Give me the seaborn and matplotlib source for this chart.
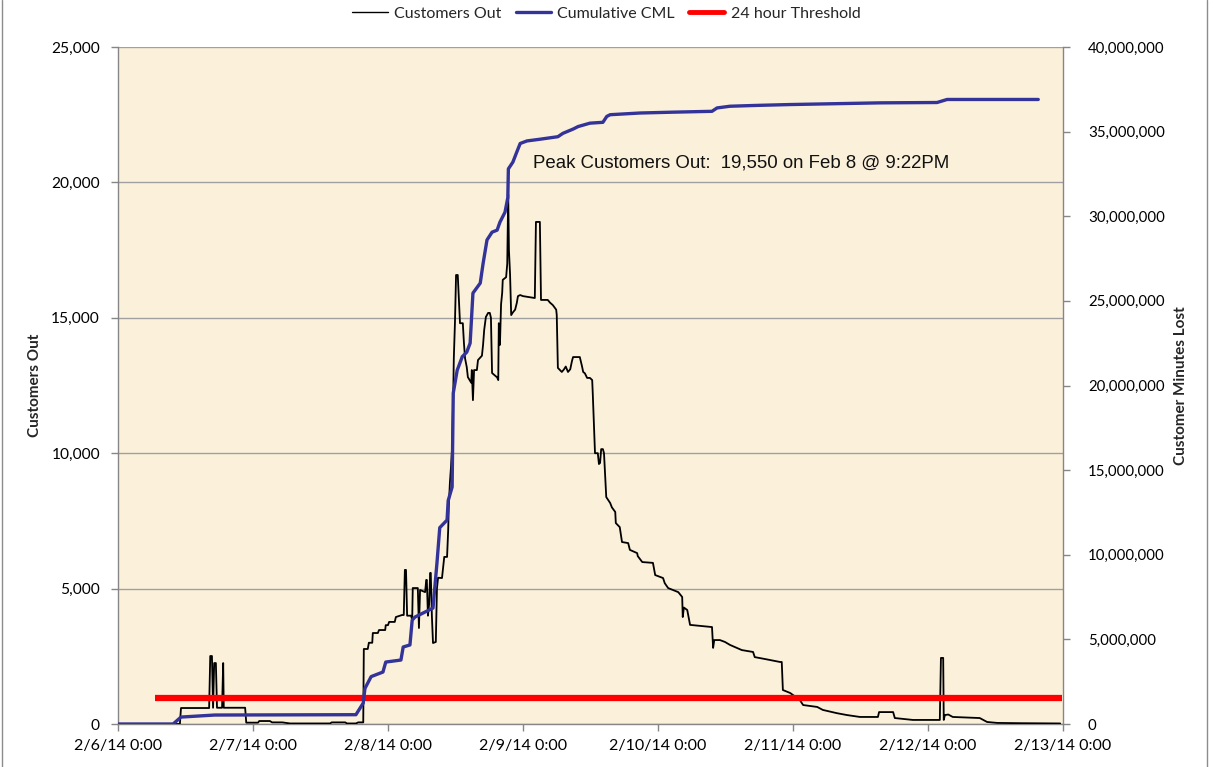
import numpy as np
import pandas as pd
import matplotlib
matplotlib.use("Agg")
import matplotlib.pyplot as plt
import seaborn as sns
from matplotlib.ticker import FuncFormatter, MultipleLocator
from matplotlib.lines import Line2D
import matplotlib.dates as mdates

# ---------------- data ----------------
start = pd.Timestamp("2014-02-06 00:00")

# Customers Out (hours since 2/6/14 0:00, customers)
co_hours = [0, 11.0, 11.2, 16.2, 16.4, 16.7, 16.9, 17.1, 17.4, 17.6, 18.5, 18.7, 18.8, 22.6,
            22.8, 24.9, 25.1, 27.0, 27.4, 29.2, 30.6, 37.7, 38.0, 40.4, 40.7, 42.3, 42.7, 43.6,
            43.7, 44.4, 44.6, 45.2, 45.3, 46.2, 46.4, 47.5, 47.6, 48.0, 48.2, 49.2, 49.4, 50.5,
            50.8, 51.0, 51.2, 51.4, 52.1, 52.3, 52.4, 53.3, 53.5, 53.7, 54.6, 54.8, 54.9, 55.1,
            55.3, 55.5, 55.6, 55.8, 56.0, 56.5, 56.7, 56.9, 57.4, 57.6, 58.0, 58.5, 58.7, 58.8,
            59.0, 59.2, 59.4, 59.6, 59.7, 59.9, 60.1, 60.4, 60.8, 61.3, 61.5, 61.7, 62.0, 62.2,
            62.8, 62.9, 63.1, 63.3, 63.8, 64.0, 64.7, 64.9, 65.1, 65.4, 65.8, 66.1, 66.3, 66.5,
            67.4, 67.6, 67.7, 67.9, 68.1, 68.3, 68.4, 69.0, 69.2, 69.37, 69.5, 69.7, 69.9, 70.2,
            70.6, 70.9, 71.1, 71.5, 72.0, 74.1, 74.3, 75.0, 75.2, 76.4, 76.8, 77.3, 77.9, 78.0,
            78.2, 78.9, 79.3, 79.6, 80.0, 80.4, 80.7, 80.9, 82.1, 82.5, 82.7, 83.0, 83.4, 83.9,
            84.3, 84.4, 84.8, 85.3, 85.5, 85.7, 85.9, 86.2, 86.4, 86.8, 87.5, 87.8, 88.4, 88.5,
            89.2, 89.6, 90.7, 91.0, 92.3, 92.4, 93.2, 95.1, 95.5, 96.9, 97.2, 97.8, 99.6, 100.3,
            100.4, 100.6, 101.2, 101.7, 105.6, 105.8, 106.0, 107.0, 107.9, 108.8, 110.9, 112.9,
            113.2, 115.0, 117.7, 118.0, 118.2, 119.5, 121.2, 121.8, 124.3, 125.3, 127.8, 129.6,
            131.9, 135.1, 135.3, 136.9, 137.8, 138.1, 141.3, 146.1, 146.3, 146.7, 146.8, 147.0,
            147.6, 148.4, 153.2, 154.5, 156.3, 160.4, 167.5]
co_values = [0, 0, 590, 590, 2510, 2510, 600, 2250, 2250, 600, 600, 2250, 600, 600,
             50, 50, 110, 110, 60, 60, 20, 20, 60, 60, 20, 20, 60, 60,
             2770, 2770, 3000, 3000, 3360, 3360, 3470, 3470, 3650, 3650, 3770, 3770, 3950, 4025,
             4025, 5690, 5690, 4000, 4000, 3840, 5020, 5020, 3545, 4950, 4870, 5320, 5320, 4000,
             4400, 5580, 5580, 4000, 2990, 3030, 5000, 5400, 5390, 5390, 6170, 6170, 7160, 8000,
             8900, 9500, 10230, 12220, 13500, 14800, 16580, 16580, 14800, 14800, 14070, 13500, 13180, 12810,
             12600, 13070, 11960, 13070, 13070, 13440, 13600, 14000, 14550, 15030, 15180, 15180, 15000, 12960,
             12800, 12700, 14800, 14000, 15500, 15920, 16400, 16500, 17000, 19550, 17500, 16600, 15100, 15200,
             15300, 15550, 15800, 15840, 15800, 15730, 18540, 18540, 15660, 15660, 15560, 15470, 15300, 15100,
             13150, 13000, 13100, 13200, 13000, 13100, 13400, 13550, 13550, 13200, 13000, 12950, 12780, 12780,
             12700, 12220, 10000, 10000, 9600, 9640, 10150, 10150, 10000, 8380, 8160, 8000, 7830, 7420,
             7270, 6720, 6680, 6430, 6310, 6200, 5980, 5950, 5500, 5390, 5200, 5020, 4870, 4690,
             3950, 4300, 4210, 3660, 3580, 2810, 3100, 3100, 3030, 2920, 2730, 2660,
             2470, 2400, 2290, 2290, 1255, 1145, 890, 700, 630, 520, 400, 330,
             260, 260, 440, 440, 440, 220, 150, 150, 2440, 2440, 150, 330,
             350, 260, 220, 75, 40, 30, 20]

# Cumulative customer minutes lost (hours, minutes)
cml_hours = [0, 9.8, 11.2, 17.2, 42.3, 43.6, 43.9, 45.0, 47.1, 47.6, 50.3, 50.7, 51.9, 52.3,
             52.8, 56.0, 56.7, 57.2, 58.5, 58.7, 59.4, 59.6, 60.3, 61.2, 62.0, 62.6, 63.1, 64.4,
             64.9, 65.6, 66.5, 67.4, 67.9, 68.8, 69.3, 69.4, 70.2, 70.9, 71.5, 72.7, 75.0, 78.2,
             79.1, 80.9, 81.8, 83.9, 86.2, 86.9, 87.5, 92.8, 98.7, 105.6, 106.5, 108.8, 113.6,
             119.5, 135.5, 145.6, 147.4, 163.6]
cml_values = [0, 0, 410000, 530000, 550000, 1240000, 2100000, 2800000, 3070000, 3660000,
              3780000, 4550000, 4670000, 6140000, 6320000, 6850000, 9500000, 11600000, 12050000,
              13200000, 14000000, 19550000, 20900000, 21700000, 21970000, 22500000, 25460000,
              26050000, 27200000, 28600000, 29060000, 29180000, 29650000, 30240000, 31100000,
              32800000, 33200000, 33800000, 34300000, 34450000, 34550000, 34700000, 34900000,
              35150000, 35300000, 35500000, 35550000, 35900000, 36000000, 36100000, 36150000,
              36200000, 36400000, 36500000, 36550000, 36600000, 36700000, 36720000, 36900000,
              36900000]

# 24 hour threshold (customers)
thr_hours = [6.6, 167.8]
thr_values = [950, 950]

series_labels = ["Customers Out", "Cumulative CML", "24 hour Threshold"]
peak_label = "Peak Customers Out:  19,550 on Feb 8 @ 9:22PM"
peak_text_hour = 73.8
peak_text_value = 20700

# ---------------- frames ----------------
df_co = pd.DataFrame({"time": start + pd.to_timedelta(co_hours, unit="h"), "value": co_values})
df_cml = pd.DataFrame({"time": start + pd.to_timedelta(cml_hours, unit="h"), "value": cml_values})
df_thr = pd.DataFrame({"time": start + pd.to_timedelta(thr_hours, unit="h"), "value": thr_values})

# ---------------- style ----------------
sns.set_theme(style="white")
plt.rcParams["font.family"] = ["Lato", "DejaVu Sans"]

W, H = 1213, 767
fig = plt.figure(figsize=(W / 100, H / 100), dpi=100)
fig.patch.set_facecolor("white")
ax = fig.add_axes([118 / W, 1 - 724 / H, 945 / W, 677 / H])
ax2 = ax.twinx()

ax.set_facecolor("#FBF0D9")
ax2.patch.set_visible(False)

blue = "#333399"
sns.lineplot(data=df_co, x="time", y="value", ax=ax, color="black", lw=1.3,
             sort=False, estimator=None, zorder=3)
sns.lineplot(data=df_thr, x="time", y="value", ax=ax, color="#FF0000", lw=4.5,
             sort=False, estimator=None, zorder=4, solid_capstyle="butt")
sns.lineplot(data=df_cml, x="time", y="value", ax=ax2, color=blue, lw=2.4,
             sort=False, estimator=None, zorder=5)

# axes limits / ticks
x0 = start
x1 = start + pd.Timedelta(days=7)
ax.set_xlim(x0, x1)
ax.set_ylim(0, 25000)
ax2.set_ylim(0, 40000000)
ax.yaxis.set_major_locator(MultipleLocator(5000))
ax2.yaxis.set_major_locator(MultipleLocator(5000000))
ax.yaxis.set_major_formatter(FuncFormatter(lambda v, p: f"{v:,.0f}"))
ax2.yaxis.set_major_formatter(FuncFormatter(lambda v, p: f"{v:,.0f}"))
ax.set_xticks(pd.date_range(x0, x1, freq="D"))


def fmt_date(v, p):
    d = mdates.num2date(v)
    return f"{d.month}/{d.day}/{d.strftime('%y')} {d.hour}:{d.minute:02d}"


ax.xaxis.set_major_formatter(FuncFormatter(fmt_date))

grey = "#868686"
ax.grid(axis="y", color="#A0A0A0", lw=1)
ax.grid(axis="x", visible=False)
ax2.grid(False)
ax.set_axisbelow(True)

for s in ["top", "right"]:
    ax.spines[s].set_visible(False)
for s in ["left", "bottom"]:
    ax.spines[s].set_color(grey)
    ax.spines[s].set_linewidth(1)
for s in ["top", "left", "bottom"]:
    ax2.spines[s].set_visible(False)
ax2.spines["right"].set_color(grey)
ax2.spines["right"].set_linewidth(1)

ax.tick_params(axis="y", left=True, direction="out", length=5, width=1, color=grey,
               labelsize=11.2, pad=8, labelcolor="black")
ax.tick_params(axis="x", bottom=True, direction="out", length=5, width=1, color=grey,
               labelsize=11.5, pad=6, labelcolor="black")
ax2.tick_params(axis="y", right=True, direction="out", length=5, width=1, color=grey,
                labelsize=10.8, pad=13, labelcolor="black")

ax.set_xlabel("")
ax.set_ylabel("Customers Out", fontsize=11, fontweight="bold")
ax2.set_ylabel("Customer Minutes Lost", fontsize=11, fontweight="bold")
ax.yaxis.set_label_coords(-0.08, 0.5)
ax2.yaxis.set_label_coords(1.117, 0.5)

ax.text(start + pd.Timedelta(hours=peak_text_hour), peak_text_value, peak_label,
        fontsize=13.4, family=["Liberation Sans", "DejaVu Sans"], ha="left", va="center",
        color="#111111", zorder=6)

handles = [Line2D([], [], color="black", lw=1.0),
           Line2D([], [], color=blue, lw=2.4),
           Line2D([], [], color="#FF0000", lw=3.5)]
fig.legend(handles=handles, labels=series_labels, loc="upper center",
           bbox_to_anchor=(0.5, 1.01), ncol=3, frameon=False, fontsize=11.5,
           handlelength=2.2, handletextpad=0.4, columnspacing=0.9)

# chart-area border lines (left/right)
for xb in (2 / W, 1207 / W):
    fig.add_artist(Line2D([xb, xb], [0, 1], transform=fig.transFigure, color="#8C8C8C", lw=1))

fig.savefig("out.png", dpi=100)
